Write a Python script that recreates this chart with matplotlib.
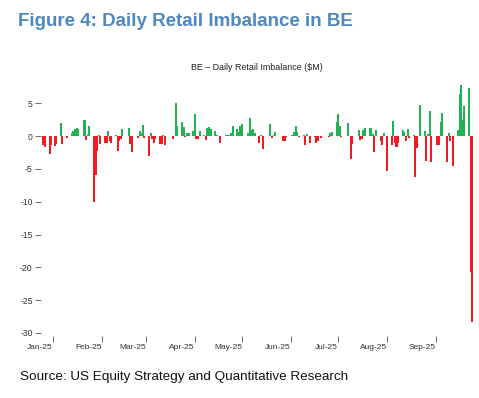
import matplotlib
matplotlib.use('Agg')
import matplotlib.pyplot as plt
import matplotlib.dates as mdates
import pandas as pd
from matplotlib import font_manager

# ---------------- data ----------------
dates = [
    '2024-12-26', '2024-12-27', '2024-12-30', '2024-12-31',
    '2025-01-02', '2025-01-03', '2025-01-06', '2025-01-07', '2025-01-10',
    '2025-01-13', '2025-01-14', '2025-01-15', '2025-01-16', '2025-01-17',
    '2025-01-21', '2025-01-22', '2025-01-23', '2025-01-24', '2025-01-27',
    '2025-01-28', '2025-01-29', '2025-01-30', '2025-01-31',
    '2025-02-03', '2025-02-04', '2025-02-05', '2025-02-06', '2025-02-07',
    '2025-02-10', '2025-02-11', '2025-02-12', '2025-02-13', '2025-02-14',
    '2025-02-18', '2025-02-19', '2025-02-20', '2025-02-24', '2025-02-25',
    '2025-02-26', '2025-02-27', '2025-02-28',
    '2025-03-03', '2025-03-04', '2025-03-05', '2025-03-06', '2025-03-07',
    '2025-03-10', '2025-03-11', '2025-03-12', '2025-03-13', '2025-03-18',
    '2025-03-20', '2025-03-21', '2025-03-24', '2025-03-25', '2025-03-26',
    '2025-03-27', '2025-03-28', '2025-03-31',
    '2025-04-01', '2025-04-02', '2025-04-03', '2025-04-04', '2025-04-07',
    '2025-04-08', '2025-04-09', '2025-04-10', '2025-04-11', '2025-04-14',
    '2025-04-15', '2025-04-17', '2025-04-21', '2025-04-22', '2025-04-23',
    '2025-04-24', '2025-04-25', '2025-04-28', '2025-04-29', '2025-04-30',
    '2025-05-01', '2025-05-05', '2025-05-06', '2025-05-07', '2025-05-08',
    '2025-05-09', '2025-05-12', '2025-05-13', '2025-05-14', '2025-05-19',
    '2025-05-20', '2025-05-21', '2025-05-22', '2025-05-27', '2025-05-28',
    '2025-05-29',
    '2025-06-02', '2025-06-03', '2025-06-04', '2025-06-05', '2025-06-06',
    '2025-06-09', '2025-06-10', '2025-06-11', '2025-06-13', '2025-06-16',
    '2025-06-17', '2025-06-18', '2025-06-20', '2025-06-25', '2025-06-26',
    '2025-06-27', '2025-06-30',
    '2025-07-01', '2025-07-02', '2025-07-03', '2025-07-07', '2025-07-09',
    '2025-07-10', '2025-07-14', '2025-07-15', '2025-07-16', '2025-07-17',
    '2025-07-18', '2025-07-21', '2025-07-22', '2025-07-23', '2025-07-24',
    '2025-07-25', '2025-07-28', '2025-07-29', '2025-07-30',
    '2025-08-01', '2025-08-04', '2025-08-05', '2025-08-06', '2025-08-07',
    '2025-08-08', '2025-08-11', '2025-08-12', '2025-08-13', '2025-08-14',
    '2025-08-15', '2025-08-18', '2025-08-19', '2025-08-20', '2025-08-22',
    '2025-08-25', '2025-08-26', '2025-08-27', '2025-08-28', '2025-08-29',
    '2025-09-02', '2025-09-03', '2025-09-04', '2025-09-05', '2025-09-08',
    '2025-09-09', '2025-09-10', '2025-09-12', '2025-09-15', '2025-09-16',
    '2025-09-17', '2025-09-18', '2025-09-19', '2025-09-22', '2025-09-23',
    '2025-09-24',
]
values = [
    -1.3, -1.6, -2.7, -1.3,
    -1.5, -1.2, 2.0, -1.2, -0.3,
    0.5, 0.8, 1.1, 1.2, 1.1,
    2.4, -0.6, 0.3, 1.5, -10.0,
    -6.0, -2.3, 0.2, -1.2,
    -1.1, -1.0, 0.7, -0.8, -1.0,
    0.1, -2.2, -0.7, -0.5, 1.1,
    1.2, -1.2, -2.4, -0.3, 0.8,
    0.5, 1.7, -0.3,
    -3.0, 0.4, -0.5, -1.0, -0.4,
    -1.2, -1.2, 0.2, -1.3, -0.5,
    5.0, 1.5, 2.2, 1.4, -0.2,
    0.5, 0.5, 0.8,
    3.3, -0.4, -0.4, 0.8, 0.2,
    -0.6, 1.2, 1.4, 1.1, 0.7,
    0.2, -1.0, 0.2, 0.2, 0.2,
    0.5, 1.6, 1.1, 0.6, 1.6,
    1.8, 0.5, 2.7, 0.9, 1.1,
    0.5, -1.0, 0.2, -1.9, 1.9,
    -0.3, 0.2, 0.6, -0.8, -0.8,
    -0.2,
    0.2, 0.6, 1.5, 0.6, -0.2,
    0.1, -1.3, 0.3, -1.0, -0.2,
    -1.0, -0.8, -0.3, -0.2, 0.4,
    0.6, 2.2,
    3.3, 1.6, -0.1, 2.0, -3.5,
    -1.2, 1.0, -0.6, -0.5, 1.0,
    1.2, 1.2, 1.3, 0.3, -2.5,
    0.9, -0.7, -1.3, 0.5,
    -5.3, -1.3, 2.3, -1.0, -1.7,
    -1.0, 0.9, 0.6, -0.7, 1.1,
    -0.3, 0.2, -6.3, -1.8, 4.7,
    0.7, -3.8, 0.3, 3.8, -4.0,
    -1.3, -1.3, 2.1, 3.5, -4.0,
    0.5, -0.8, -4.6, 0.9, 6.4,
    7.8, 2.5, 4.6, 7.3, -20.7,
    -28.3,
]
tick_dates = ['2025-01-01', '2025-02-01', '2025-03-01', '2025-04-01', '2025-05-01',
              '2025-06-01', '2025-07-01', '2025-08-01', '2025-09-01']
tick_labels = ['Jan-25', 'Feb-25', 'Mar-25', 'Apr-25', 'May-25',
               'Jun-25', 'Jul-25', 'Aug-25', 'Sep-25']
y_ticks = [5, 0, -5, -10, -15, -20, -25, -30]

# ---------------- fonts ----------------
installed = {f.name for f in font_manager.fontManager.ttflist}
narrow = 'Liberation Sans Narrow' if 'Liberation Sans Narrow' in installed else 'Liberation Sans'
plt.rcParams['font.family'] = ['Liberation Sans', 'DejaVu Sans']

W, H = 479, 398
fig = plt.figure(figsize=(W / 100, H / 100), dpi=100)
fig.patch.set_facecolor('white')

ax_left, ax_right, ax_top, ax_bottom = 41, 475, 81.5, 336
ax = fig.add_axes([ax_left / W, 1 - ax_bottom / H,
                   (ax_right - ax_left) / W, (ax_bottom - ax_top) / H])

x = mdates.date2num(pd.to_datetime(dates))
colors = ['#22b155' if v >= 0 else '#f21b22' for v in values]
ax.bar(x, values, width=1.3, color=colors, linewidth=0, align='center')

jan1 = mdates.date2num(pd.Timestamp('2025-01-01'))
ax.set_xlim(jan1 - 7.6, jan1 + 267.8)
ax.set_ylim(-30.47, 8.32)

for s in ax.spines.values():
    s.set_visible(False)

ax.set_yticks(y_ticks)
ax.set_yticklabels([str(t) for t in y_ticks], family=narrow, fontsize=6.2, color='#333333')
ax.tick_params(axis='y', length=4, width=0.6, color='#555555', pad=2)

ax.set_xticks(mdates.date2num(pd.to_datetime(tick_dates)))
ax.set_xticklabels(tick_labels, family=narrow, fontsize=6.0, color='#333333', ha='right')
ax.tick_params(axis='x', length=4, width=0.6, color='#555555', pad=2)

fig.text(18 / W, 1 - 22 / H, 'Figure 4: Daily Retail Imbalance in BE',
         fontsize=13.5, fontweight='bold', color='#4f87c1', va='center', ha='left')
fig.text(257 / W, 1 - 67 / H, 'BE \u2013 Daily Retail Imbalance ($M)',
         family=narrow, fontsize=6.4, color='#222222', va='center', ha='center')
fig.text(20 / W, 1 - 377 / H, 'Source: US Equity Strategy and Quantitative Research',
         fontsize=9.7, color='#111111', va='center', ha='left')

fig.savefig('out.png', dpi=100, facecolor='white')
